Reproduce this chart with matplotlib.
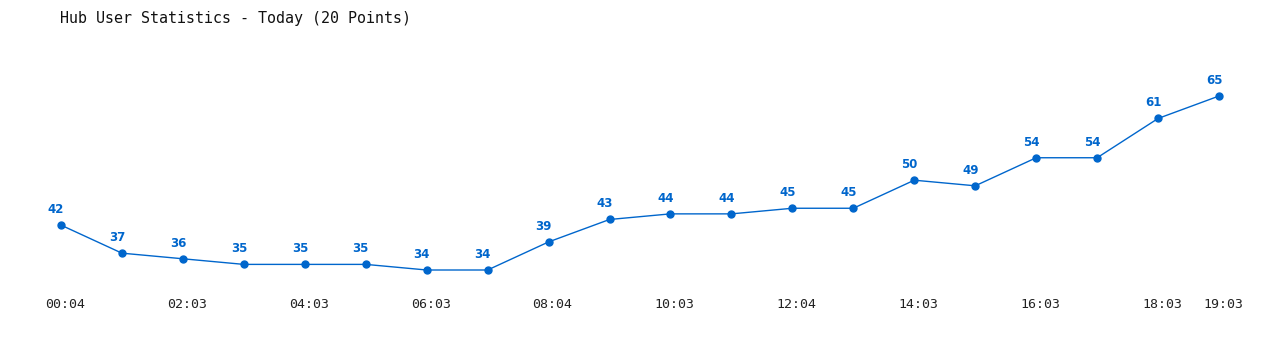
import matplotlib
matplotlib.use("Agg")
import matplotlib.pyplot as plt
import matplotlib.transforms as mtransforms

times = ["00:04", "01:03", "02:03", "03:03", "04:03", "05:03", "06:03", "07:03", "08:04", "09:03",
         "10:03", "11:03", "12:04", "13:03", "14:03", "15:03", "16:03", "17:03", "18:03", "19:03"]
users = [42, 37, 36, 35, 35, 35, 34, 34, 39, 43, 44, 44, 45, 45, 50, 49, 54, 54, 61, 65]
tick_idx = [0, 2, 4, 6, 8, 10, 12, 14, 16, 18, 19]
title = "Hub User Statistics - Today (20 Points)"

color = "#0066cc"
fig = plt.figure(figsize=(12.8, 3.5), dpi=100)
# axes from y=40px to y=290px
ax = fig.add_axes([0, 60 / 350, 1, 250 / 350])
x = list(range(len(users)))
ax.plot(x, users, color=color, lw=1.0, marker="o", ms=5, mfc=color, mec=color)
for xi, v in zip(x, users):
    ax.annotate(str(v), (xi, v), xytext=(-3.5, 6.5), textcoords="offset points",
                ha="center", va="bottom", fontsize=8.5, fontweight="bold",
                color=color, family="DejaVu Sans")
ax.set_xlim(-1, 20)
ax.set_ylim(30.437, 74.977)
ax.set_xticks(tick_idx)
ax.set_xticklabels([times[i] for i in tick_idx], family="DejaVu Sans Mono",
                   fontsize=9.5, color="#222222")
ax.tick_params(axis="x", length=0, pad=6)
ax.set_yticks([])
for s in ax.spines.values():
    s.set_visible(False)
offset = mtransforms.ScaledTranslation(4 / 100, 0, fig.dpi_scale_trans)
for lab in ax.get_xticklabels():
    lab.set_transform(lab.get_transform() + offset)
fig.text(60 / 1280, 1 - 18 / 350, title, family="DejaVu Sans Mono", fontsize=10.8,
         ha="left", va="center", color="#111111")
fig.savefig("out.png", dpi=100)
